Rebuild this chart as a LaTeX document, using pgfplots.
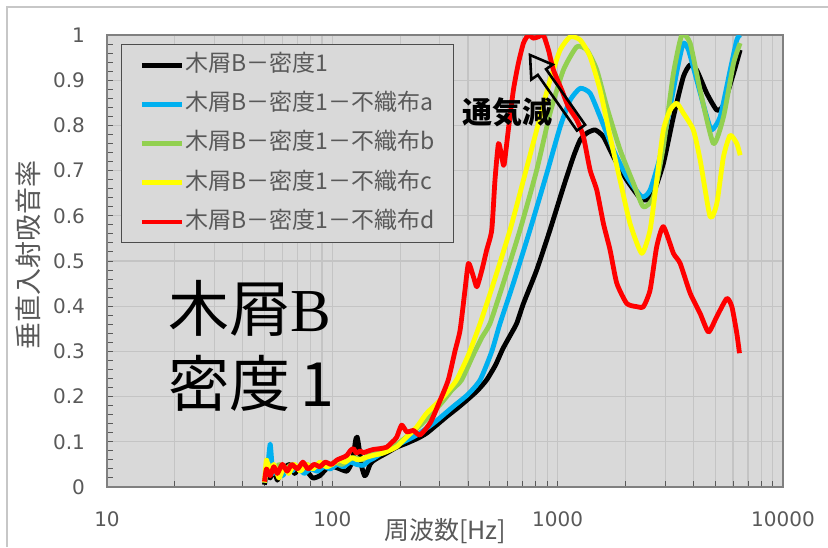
\documentclass[border=0pt]{standalone}
\usepackage{pgfplots}
\pgfplotsset{compat=1.18}
\usepackage{fontspec}
\setmainfont{Noto Sans CJK JP}
\newfontfamily\cjk{Noto Sans CJK JP}
\newfontfamily\tickfont{DejaVu Sans}
\newfontfamily\serifB{Liberation Serif}
\definecolor{bgray}{HTML}{D9D9D9}
\definecolor{gridc}{HTML}{C4C4C4}
\definecolor{txtgray}{HTML}{595959}
\definecolor{cblue}{HTML}{00B0F0}
\definecolor{cgreen}{HTML}{92D050}
\definecolor{cyellow}{HTML}{FFFF00}
\definecolor{cred}{HTML}{FF0000}
\begin{document}
\begin{tikzpicture}
\path[use as bounding box] (-53.5pt,-30pt) rectangle (360.5pt,243.5pt);
\draw[bgray!80!gray, line width=0.6pt] (-50pt,-30pt) -- (-50pt,240pt) -- (360.5pt,240pt);
\begin{axis}[
  scale only axis,
  width=338pt, height=226pt,
  xmode=log, xmin=10, xmax=10000, ymin=0, ymax=1,
  axis background/.style={fill=bgray},
  axis line style={draw=black!50, line width=0.6pt},
  xtick={10,100,1000,10000},
  xticklabels={10,100,1000,10000},
  minor xtick={20,30,40,50,60,70,80,90,200,300,400,500,600,700,800,900,2000,3000,4000,5000,6000,7000,8000,9000},
  ytick={0,0.1,0.2,0.3,0.4,0.5,0.6,0.7,0.8,0.9,1},
  yticklabels={0,0.1,0.2,0.3,0.4,0.5,0.6,0.7,0.8,0.9,1},
  minor ytick={0.02,0.04,...,0.98},
  xmajorgrids, xminorgrids, ymajorgrids,
  major grid style={draw=gridc, line width=0.6pt},
  minor grid style={draw=gridc, line width=0.6pt},
  tick align=inside, tick pos=left,
  major tick length=3pt, minor tick length=3pt,
  tick style={draw=txtgray, line width=0.5pt},
  /pgf/number format/assume math mode=true,
  ticklabel style={font=\tickfont\fontsize{10}{12}\selectfont, text=txtgray},
  xticklabel style={yshift=-9pt},
  yticklabel style={xshift=-7.5pt},
  xlabel={周波数[Hz]},
  xlabel style={at={(axis description cs:0.5,0)}, anchor=center, yshift=-22pt, font=\cjk\fontsize{12.5}{14}\selectfont, text=txtgray},
  ylabel={垂直入射吸音率},
  ylabel style={at={(axis description cs:-0.1169,0.513)}, anchor=center, font=\cjk\fontsize{13.5}{15}\selectfont, text=txtgray},
  legend cell align=left,
  legend image code/.code={\draw[#1] (0pt,0pt) -- (20pt,0pt);},
  legend style={at={(axis description cs:0.0207,0.980)}, anchor=north west,
    fill=bgray, draw=black!70, line width=0.6pt,
    inner xsep=9pt, inner ysep=4.3pt,
    row sep=7.6pt,
    font=\cjk\fontsize{11.5}{12}\selectfont, text=txtgray,
    nodes={inner sep=0.5pt, text height=8.6pt, text depth=2.4pt}},
  every axis plot/.append style={line width=2.4pt, line join=round, smooth, tension=0.35},
]
\addplot[black] coordinates {
(50,0.005)(51,0.03)(53,0.02)(55,0.04)(57,0.015)(59,0.035)(62,0.045)(65,0.05)(68,0.03)(72,0.045)(77,0.035)(82,0.02)(88,0.025)(94,0.04)(101,0.045)(108,0.04)(116,0.035)(121,0.05)(124,0.07)(127,0.105)(129,0.11)(132,0.08)(135,0.045)(139,0.025)(142,0.03)(147,0.05)(152,0.058)(160,0.065)(174,0.075)(193,0.088)(214,0.097)(240,0.108)(262,0.119)(290,0.137)(322,0.156)(360,0.175)(395,0.192)(440,0.213)(484,0.237)(530,0.27)(570,0.305)(615,0.335)(658,0.362)(705,0.406)(807,0.480)(925,0.569)(1061,0.664)(1175,0.731)(1259,0.768)(1347,0.783)(1466,0.790)(1596,0.775)(1767,0.731)(2026,0.679)(2322,0.639)(2485,0.635)(2660,0.650)(2946,0.716)(3264,0.819)(3614,0.908)(3871,0.934)(4142,0.922)(4589,0.871)(5083,0.834)(5444,0.845)(6030,0.915)(6455,0.967)
};
\addlegendentry{木屑B－密度1}
\addplot[cblue] coordinates {
(50,0.01)(51,0.04)(52,0.06)(53,0.095)(54,0.05)(55,0.03)(57,0.045)(60,0.025)(63,0.04)(66,0.035)(70,0.045)(75,0.03)(80,0.04)(86,0.035)(92,0.045)(98,0.04)(105,0.05)(112,0.045)(120,0.055)(128,0.05)(137,0.048)(145,0.058)(152,0.063)(168,0.077)(187,0.089)(207,0.100)(237,0.115)(281,0.141)(344,0.178)(400,0.205)(453,0.237)(510,0.30)(555,0.362)(636,0.451)(754,0.569)(895,0.694)(1026,0.797)(1136,0.856)(1259,0.882)(1393,0.871)(1543,0.819)(1767,0.746)(2026,0.687)(2362,0.642)(2572,0.657)(2849,0.731)(3155,0.841)(3436,0.937)(3614,0.982)(3805,0.967)(4142,0.900)(4589,0.819)(4829,0.790)(5261,0.819)(5826,0.922)(6237,0.989)(6455,1.0)
};
\addlegendentry{木屑B－密度1－不織布a}
\addplot[cgreen] coordinates {
(50,0.01)(52,0.05)(55,0.035)(58,0.05)(62,0.04)(66,0.05)(71,0.04)(76,0.05)(82,0.045)(88,0.05)(95,0.045)(102,0.055)(110,0.05)(118,0.06)(126,0.065)(135,0.06)(145,0.07)(160,0.075)(180,0.085)(200,0.1)(225,0.12)(250,0.14)(280,0.165)(310,0.19)(340,0.215)(375,0.237)(420,0.29)(460,0.33)(501,0.362)(574,0.451)(681,0.569)(807,0.701)(925,0.827)(1061,0.923)(1216,0.974)(1347,0.967)(1491,0.923)(1652,0.841)(1892,0.746)(2168,0.672)(2401,0.620)(2660,0.642)(2946,0.753)(3264,0.915)(3557,1.0)(3871,0.982)(4287,0.878)(4911,0.760)(5444,0.819)(6030,0.937)(6455,0.982)
};
\addlegendentry{木屑B－密度1－不織布b}
\addplot[cyellow] coordinates {
(50,0.01)(51,0.06)(53,0.03)(55,0.05)(58,0.02)(61,0.045)(64,0.03)(68,0.05)(72,0.035)(77,0.05)(82,0.04)(88,0.055)(94,0.045)(100,0.05)(107,0.06)(114,0.055)(122,0.065)(130,0.06)(140,0.065)(152,0.07)(168,0.075)(193,0.089)(214,0.111)(237,0.133)(262,0.163)(301,0.192)(330,0.215)(356,0.237)(400,0.29)(453,0.362)(519,0.451)(615,0.569)(705,0.679)(807,0.790)(925,0.900)(1026,0.967)(1136,0.996)(1259,0.989)(1393,0.952)(1543,0.878)(1709,0.775)(1892,0.679)(2095,0.583)(2362,0.517)(2572,0.569)(2752,0.679)(2946,0.790)(3155,0.834)(3378,0.849)(3614,0.827)(4000,0.790)(4287,0.724)(4748,0.598)(5083,0.627)(5444,0.731)(5826,0.778)(6237,0.760)(6455,0.734)
};
\addlegendentry{木屑B－密度1－不織布c}
\addplot[cred] coordinates {
(50,0.012)(51,0.04)(53,0.025)(55,0.045)(57,0.03)(60,0.05)(63,0.035)(66,0.05)(70,0.04)(74,0.055)(78,0.04)(83,0.05)(88,0.045)(93,0.055)(99,0.05)(105,0.06)(111,0.065)(116,0.07)(120,0.08)(124,0.085)(128,0.075)(133,0.08)(137,0.076)(145,0.08)(152,0.083)(163,0.085)(174,0.088)(185,0.10)(193,0.11)(203,0.137)(214,0.122)(229,0.125)(245,0.115)(272,0.142)(301,0.192)(327,0.237)(350,0.30)(369,0.347)(388,0.436)(402,0.495)(423,0.465)(438,0.443)(461,0.480)(484,0.524)(510,0.569)(527,0.679)(546,0.760)(565,0.731)(578,0.712)(604,0.790)(636,0.878)(669,0.937)(705,0.982)(742,1.0)(780,0.993)(821,0.996)(864,1.0)(910,0.967)(957,0.923)(1043,0.878)(1116,0.841)(1216,0.812)(1301,0.775)(1393,0.701)(1491,0.657)(1596,0.583)(1709,0.524)(1829,0.451)(2026,0.406)(2245,0.399)(2401,0.399)(2572,0.436)(2752,0.532)(2946,0.576)(3264,0.517)(3494,0.495)(3871,0.429)(4287,0.384)(4670,0.343)(5083,0.377)(5630,0.417)(5930,0.399)(6237,0.340)(6410,0.296)
};
\addlegendentry{木屑B－密度1－不織布d}
\end{axis}
\node[anchor=west, inner sep=0pt, font=\cjk\fontsize{30.5}{30.5}\selectfont] at (30.5pt,89.5pt) {木屑{\serifB B}};
\node[anchor=west, inner sep=0pt, font=\cjk\fontsize{30.5}{30.5}\selectfont] at (30.5pt,52pt) {密度\,1};
\node[inner sep=0pt, font=\cjk\bfseries\fontsize{15}{15}\selectfont] at (200pt,187.5pt) {通気減};
\begin{scope}[shift={(237pt,179.65pt)}, rotate=125.05]
\draw[black, line width=1.3pt, line join=miter] (0pt,-2.5pt) -- (34pt,-2.5pt) -- (34pt,-6.5pt) -- (44.4pt,0pt) -- (34pt,6.5pt) -- (34pt,2.5pt) -- (0pt,2.5pt) -- cycle;
\end{scope}
\end{tikzpicture}
\end{document}
